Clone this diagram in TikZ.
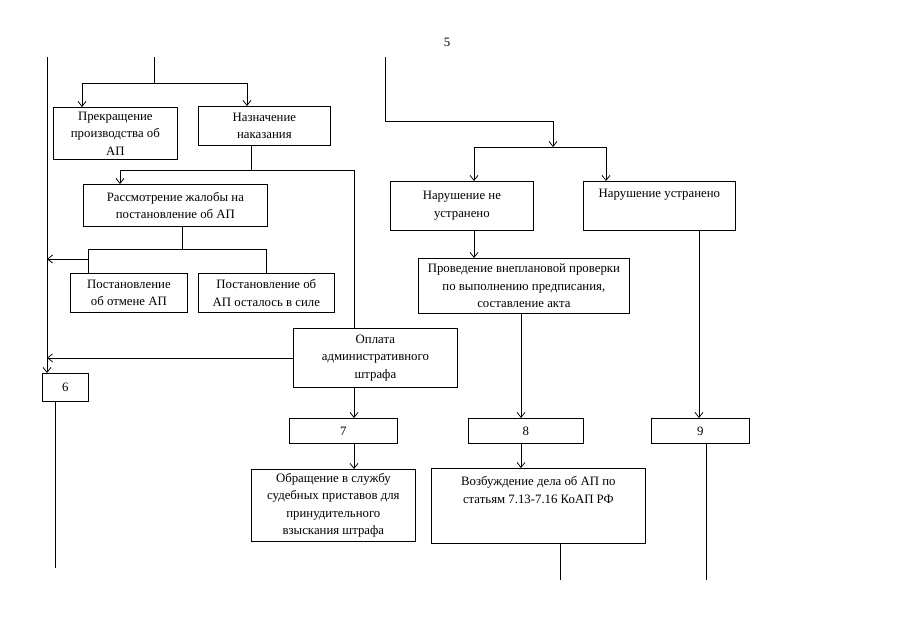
\documentclass[tikz,border=0pt]{standalone}
\usepackage{fontspec}
\setmainfont{Liberation Serif}
\usetikzlibrary{arrows.meta}

\begin{document}
\begin{tikzpicture}[
  x=1pt,y=-1pt,
  line width=0.75pt,
  >={Straight Barb[length=5pt,width=8pt]},
  bx/.style={draw,rectangle,anchor=north west,align=center,inner sep=0pt,
             font=\fontsize{12.8}{17.5}\selectfont},
  num/.style={bx,minimum height=25pt},
  topbx/.style={bx,minimum height=0pt},
]
\useasboundingbox (0,0) rectangle (905,640);

% page number
\node[font=\fontsize{12.8}{14}\selectfont] (pg) at (447,42) {5};

% ---- left column --------------------------------------------------------
\node[bx,minimum width=124pt,minimum height=52pt] (prek) at (53,107)
  {Прекращение\\производства об\\АП};
\node[bx,minimum width=132pt,minimum height=39pt] (nazn) at (198,106)
  {Назначение\\наказания};
\node[bx,minimum width=184pt,minimum height=42pt] (rassm) at (83,184)
  {Рассмотрение жалобы на\\постановление  об АП};
\node[bx,minimum width=117pt,minimum height=39pt] (potm) at (70,273)
  {Постановление\\об отмене АП};
\node[bx,minimum width=136pt,minimum height=39pt] (psil) at (198,273)
  {Постановление об\\АП осталось в силе};
\node[bx,minimum width=164pt,minimum height=59pt] (opl) at (293,328)
  {Оплата\\административного\\штрафа};
\node[num,minimum width=46pt,minimum height=28pt] (b6) at (42,373) {6};
\node[num,minimum width=108pt] (b7) at (289,418) {7};
\node[bx,minimum width=164pt,minimum height=72pt] (obr) at (251,469)
  {Обращение в службу\\судебных приставов для\\принудительного\\взыскания штрафа};

% ---- right column -------------------------------------------------------
\node[bx,minimum width=143pt,minimum height=49pt] (narne) at (390,181)
  {Нарушение не\\устранено};
\node[topbx,minimum width=152pt,text height=16pt,text depth=33pt] (narust) at (583,181)
  {Нарушение устранено};
\node[bx,minimum width=211pt,minimum height=55pt] (prov) at (418,258)
  {Проведение внеплановой проверки\\по выполнению предписания,\\составление акта};
\node[num,minimum width=115pt] (b8) at (468,418) {8};
\node[num,minimum width=98pt] (b9) at (651,418) {9};
\node[topbx,minimum width=214pt,text height=35pt,text depth=40pt] (vozb) at (431,468)
  {Возбуждение дела об АП по\\статьям 7.13-7.16 КоАП РФ};

% ---- free ends and forks ------------------------------------------------
\coordinate (lft)   at (47,57);
\coordinate (lbot)  at (55,568);
\coordinate (top1)  at (154,57);
\coordinate (fork1) at (154,83);
\coordinate (fork2) at (251,170);
\coordinate (fork3) at (182,249);
\coordinate (br1)   at (88,259);
\coordinate (rtop)  at (385,57);
\coordinate (bend4) at (553,121);
\coordinate (fork4) at (553,147);
\coordinate (vbot)  at (560,580);
\coordinate (nbot)  at (706,580);

% ---- connectors, left ---------------------------------------------------
\draw (top1) -- (fork1);
\draw[->] (fork1) -| ([xshift=29pt]prek.north west);
\draw[->] (fork1) -| ([xshift=49pt]nazn.north west);
\draw (nazn.south -| fork2) -- (fork2);
\draw[->] (fork2) -| ([xshift=37pt]rassm.north west);
\draw (fork2) -| ([xshift=61pt]opl.north west);
\draw (rassm.south -| fork3) -- (fork3);
\draw (fork3) -| ([xshift=18pt]potm.north west);
\draw (fork3) -| ([xshift=68pt]psil.north west);
\draw[->] (br1) -- (br1 -| lft);
\draw[->] (opl.west) -- (opl.west -| lft);
\draw[->] (lft) -- (b6.north -| lft);
\draw (b6.south -| lbot) -- (lbot);
\draw[->] ([xshift=61pt]opl.south west) -- ([xshift=61pt]opl.south west |- b7.north);
\draw[->] ([xshift=65pt]b7.south west) -- ([xshift=65pt]b7.south west |- obr.north);

% ---- connectors, right --------------------------------------------------
\draw[->] (rtop) |- (bend4) -- (fork4);
\draw[->] (fork4) -| ([xshift=84pt]narne.north west);
\draw[->] (fork4) -| ([xshift=23pt]narust.north west);
\draw[->] ([xshift=84pt]narne.south west) -- ([xshift=84pt]narne.south west |- prov.north);
\draw[->] ([xshift=103pt]prov.south west) -- ([xshift=103pt]prov.south west |- b8.north);
\draw[->] ([xshift=53pt]b8.south west) -- ([xshift=53pt]b8.south west |- vozb.north);
\draw (vozb.south -| vbot) -- (vbot);
\draw[->] ([xshift=116pt]narust.south west) -- ([xshift=116pt]narust.south west |- b9.north);
\draw (b9.south -| nbot) -- (nbot);

\end{tikzpicture}
\end{document}
